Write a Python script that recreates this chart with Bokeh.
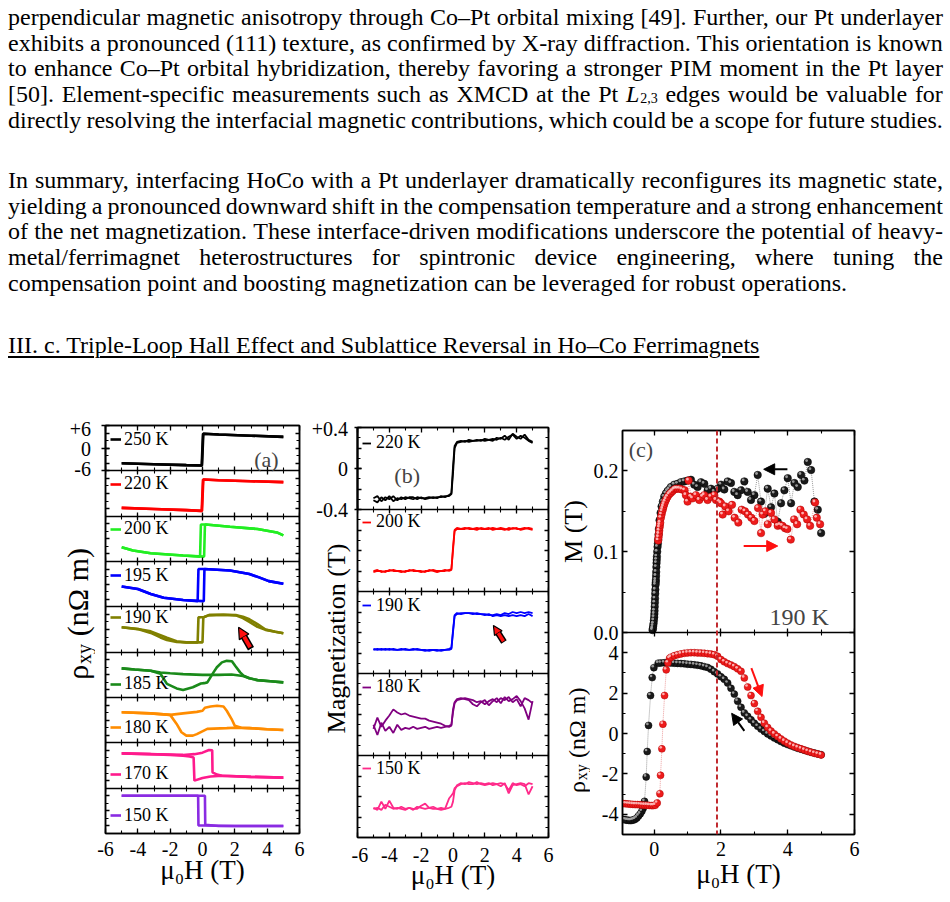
import math

from bokeh.embed import file_html
from bokeh.layouts import column, row
from bokeh.models import (Arrow, ColumnDataSource, CustomLabelingPolicy, Div, FixedTicker,
                          Label, Legend, LegendItem, LinearAxis, NormalHead, Range1d,
                          SingleIntervalTicker, Span)
from bokeh.plotting import figure
from bokeh.resources import INLINE
from bokeh.transform import dodge

SERIF = "Liberation Serif"

# ---------------------------------------------------------------- body text
para1 = [
    "perpendicular magnetic anisotropy through Co\u2013Pt orbital mixing [49]. Further, our Pt underlayer",
    "exhibits a pronounced (111) texture, as confirmed by X-ray diffraction. This orientation is known",
    "to enhance Co\u2013Pt orbital hybridization, thereby favoring a stronger PIM moment in the Pt layer",
    "[50]. Element-specific measurements such as XMCD at the Pt <i>L</i><sub>2,3</sub> edges would be valuable for",
    "directly resolving the interfacial magnetic contributions, which could be a scope for future studies.",
]
para2 = [
    "In summary, interfacing HoCo with a Pt underlayer dramatically reconfigures its magnetic state,",
    "yielding a pronounced downward shift in the compensation temperature and a strong enhancement",
    "of the net magnetization. These interface-driven modifications underscore the potential of heavy-",
    "metal/ferrimagnet heterostructures for spintronic device engineering, where tuning the",
]
para2_last = "compensation point and boosting magnetization can be leveraged for robust operations."
heading = "III. c. Triple-Loop Hall Effect and Sublattice Reversal in Ho\u2013Co Ferrimagnets"

# ---------------------------------------------------------------- panel (a): Hall loops
temps_a = ["250 K", "220 K", "200 K", "195 K", "190 K", "185 K", "180 K", "170 K", "150 K"]
colors_a = ["#000000", "#ff0000", "#22ee22", "#0000ff", "#808000",
            "#1a8a1a", "#ff8c00", "#ff1a8c", "#8a2be2"]

h_up_250 = [-5, -3, -1, -0.05, 0.03, 0.1, 1, 3, 5]
rho_up_250 = [-4.0, -4.25, -4.5, -4.6, 3.8, 3.8, 3.6, 3.3, 3.0]
h_dn_250 = [5, 3, 1, 0.05, -0.03, -0.1, -1, -3, -5]
rho_dn_250 = [3.0, 3.3, 3.6, 3.8, -4.6, -4.6, -4.5, -4.25, -4.0]

h_up_220 = [-5, -3, -1, -0.05, 0.03, 0.1, 1, 3, 5]
rho_up_220 = [-3.8, -4.1, -4.4, -4.6, 3.7, 3.7, 3.5, 3.25, 3.0]
h_dn_220 = [5, 3, 1, 0.05, -0.03, -0.1, -1, -3, -5]
rho_dn_220 = [3.0, 3.25, 3.5, 3.7, -4.6, -4.6, -4.4, -4.1, -3.8]

h_dn_200 = [5, 4.6, 3.4, 1.7, 0.2, -0.1, -0.15, -1.2, -3.2, -4.3, -5]
rho_dn_200 = [0.9, 1.7, 2.6, 3.2, 3.8, 3.8, -4.7, -4.4, -3.8, -3.1, -2.2]
h_up_200 = [-5, -4.3, -3.2, -1.2, 0.1, 0.15, 0.2, 1.7, 3.4, 4.6, 5]
rho_up_200 = [-2.2, -3.1, -3.8, -4.4, -4.7, 3.6, 3.8, 3.2, 2.6, 1.7, 0.9]

h_dn_195 = [5, 4.1, 3.5, 2.9, 1.7, 0.1, -0.25, -0.3, -1.2, -2.4, -3.2, -4.0, -5]
rho_dn_195 = [0.1, 0.8, 1.8, 2.7, 3.6, 4.0, 4.0, -4.5, -4.2, -3.6, -2.6, -1.3, -0.6]
h_up_195 = [-5, -4.0, -3.2, -2.4, -1.2, 0.0, 0.08, 0.12, 1.7, 2.9, 3.5, 4.1, 5]
rho_up_195 = [-0.6, -1.3, -2.6, -3.6, -4.2, -4.5, -4.5, 4.0, 3.6, 2.7, 1.8, 0.8, 0.1]

h_dn_190 = [5, 4.5, 3.9, 3.4, 2.9, 2.5, 2.1, 1.3, 0.4, 0.1, -0.25, -0.3,
            -1.0, -1.6, -2.2, -2.6, -3.2, -4.0, -5]
rho_dn_190 = [-1.0, -0.6, -0.1, 0.7, 2.0, 3.0, 3.7, 3.9, 3.8, 3.3, 3.2, -3.4,
              -3.4, -3.1, -2.2, -1.5, -0.5, 0.15, 0.6]
h_up_190 = [-5, -4.0, -3.2, -2.6, -2.2, -1.6, -1.0, -0.3, 0.0, 0.05, 0.4, 1.3,
            2.1, 2.5, 2.9, 3.4, 3.9, 4.5, 5]
rho_up_190 = [0.6, 0.1, -0.9, -2.1, -2.8, -3.3, -3.4, -3.4, -3.4, 3.2, 3.8, 3.9,
              3.8, 3.4, 2.7, 1.4, 0.0, -0.6, -1.0]

h_dn_185 = [5, 4.2, 3.4, 2.9, 2.5, 1.8, 1.0, 0.0, -1.2, -2.0, -2.6, -3.2, -4.2, -5]
rho_dn_185 = [-2.0, -1.7, -1.4, -0.9, -0.3, 0.1, 0.0, 0.0, 0.2, 0.4, 0.6, 1.1, 1.4, 1.7]
h_up_185 = [-5, -4.2, -3.2, -2.6, -2.2, -1.6, -1.2, -0.6, -0.1, 0.1, 0.3, 0.68,
            0.89, 1.2, 1.5, 1.82, 2.02, 2.33, 2.54, 2.9, 3.4, 4.2, 5]
rho_up_185 = [1.7, 1.4, 1.1, 0.3, -2.4, -3.6, -4.0, -3.3, -2.3, -2.2, -2.0, 0.65,
              2.0, 3.3, 3.7, 3.6, 2.4, 0.65, -0.2, -0.9, -1.4, -1.7, -2.0]

h_up_180 = [-5, -3.2, -2.0, -1.2, -0.35, 0.0, 0.15, 0.5, 0.9, 1.3, 1.5, 1.8, 2.0, 2.4, 2.9, 4, 5]
rho_up_180 = [2.1, 1.8, 1.4, 1.8, 2.2, 2.5, 3.3, 3.6, 3.8, 3.6, 2.5, 0.3, -1.5, -2.0, -2.1, -2.4, -2.6]
h_dn_180 = [5, 4, 2.9, 2.0, 1.5, 0.3, -0.35, -0.6, -1.0, -1.3, -1.6, -2.0, -3.2, -5]
rho_dn_180 = [-2.6, -2.4, -2.1, -2.0, -2.1, -2.3, -3.7, -4.1, -4.1, -3.2, -1.0, 1.4, 1.8, 2.1]

h_dn_170 = [5, 3, 1.2, 0.5, 0.0, -0.5, -0.55, -0.8, -1.2, -2, -3.2, -5]
rho_dn_170 = [-3.2, -3.0, -2.7, -2.9, -3.3, -4.0, 2.1, 2.4, 2.6, 2.8, 3.0, 3.2]
h_up_170 = [-5, -3.2, -2, -1.2, -0.5, 0.0, 0.4, 0.6, 0.62, 0.9, 1.2, 3, 5]
rho_up_170 = [3.2, 3.0, 2.9, 2.8, 3.0, 3.4, 4.1, 4.0, -1.8, -2.4, -2.7, -3.0, -3.2]

h_dn_150 = [5, 2, 0, -0.25, -0.27, -1, -3, -5]
rho_dn_150 = [-4.0, -4.0, -3.9, -3.9, 4.0, 4.0, 4.0, 4.0]
h_up_150 = [-5, -3, -1, 0.1, 0.15, 0.17, 1, 3, 5]
rho_up_150 = [4.0, 4.0, 4.0, 4.0, 4.0, -3.7, -4.0, -4.0, -4.0]

loops_a = [
    (h_up_250, rho_up_250, h_dn_250, rho_dn_250),
    (h_up_220, rho_up_220, h_dn_220, rho_dn_220),
    (h_up_200, rho_up_200, h_dn_200, rho_dn_200),
    (h_up_195, rho_up_195, h_dn_195, rho_dn_195),
    (h_up_190, rho_up_190, h_dn_190, rho_dn_190),
    (h_up_185, rho_up_185, h_dn_185, rho_dn_185),
    (h_up_180, rho_up_180, h_dn_180, rho_dn_180),
    (h_up_170, rho_up_170, h_dn_170, rho_dn_170),
    (h_up_150, rho_up_150, h_dn_150, rho_dn_150),
]

# ---------------------------------------------------------------- panel (b): magnetization loops
temps_b = ["220 K", "200 K", "190 K", "180 K", "150 K"]
colors_b = ["#000000", "#ff0000", "#0000ff", "#800080", "#ff2a8a"]

field_b = [-5.0, -4.75, -4.5, -4.25, -4.0, -3.75, -3.5, -3.25, -3.0, -2.75, -2.5,
           -2.25, -2.0, -1.75, -1.5, -1.25, -1.0, -0.75, -0.5, -0.25, -0.1, 0.0,
           0.1, 0.25, 0.5, 0.75, 1.0, 1.25, 1.5, 1.75, 2.0, 2.25, 2.5, 2.75, 3.0,
           3.25, 3.5, 3.75, 4.0, 4.25, 4.5, 4.75, 5.0]

m220_up = [-0.31, -0.33, -0.28, -0.31, -0.27, -0.32, -0.29, -0.30, -0.28, -0.29,
           -0.30, -0.28, -0.29, -0.29, -0.28, -0.29, -0.28, -0.28, -0.27, -0.27,
           -0.25, -0.05, 0.20,
           0.25, 0.26, 0.27, 0.26, 0.27, 0.27, 0.28, 0.27, 0.28, 0.29,
           0.28, 0.30, 0.28, 0.31, 0.33, 0.29, 0.32, 0.30, 0.27, 0.25]
m220_dn = [-0.29, -0.27, -0.32, -0.28, -0.30, -0.27, -0.31, -0.28, -0.30, -0.28,
           -0.28, -0.30, -0.28, -0.30, -0.29, -0.28, -0.29, -0.27, -0.28, -0.26,
           -0.24, 0.02, 0.22,
           0.26, 0.27, 0.26, 0.28, 0.27, 0.28, 0.27, 0.29, 0.28, 0.27,
           0.30, 0.29, 0.32, 0.28, 0.34, 0.31, 0.29, 0.33, 0.28, 0.26]
m200_up = [-0.20, -0.19, -0.21, -0.20, -0.20, -0.19, -0.20, -0.21, -0.20, -0.20,
           -0.19, -0.20, -0.21, -0.20, -0.20, -0.19, -0.20, -0.20, -0.20, -0.19,
           -0.18, 0.00, 0.19,
           0.21, 0.21, 0.22, 0.21, 0.21, 0.22, 0.21, 0.21, 0.22, 0.20,
           0.21, 0.22, 0.21, 0.20, 0.22, 0.21, 0.21, 0.22, 0.21, 0.20]
m200_dn = [-0.21, -0.20, -0.20, -0.21, -0.19, -0.20, -0.20, -0.20, -0.21, -0.19,
           -0.20, -0.20, -0.20, -0.21, -0.19, -0.20, -0.21, -0.20, -0.19, -0.20,
           -0.19, 0.03, 0.20,
           0.22, 0.21, 0.21, 0.22, 0.21, 0.20, 0.22, 0.21, 0.21, 0.22,
           0.21, 0.21, 0.20, 0.22, 0.21, 0.22, 0.20, 0.21, 0.22, 0.21]
m190_up = [-0.16, -0.17, -0.16, -0.17, -0.16, -0.17, -0.17, -0.16, -0.17, -0.17,
           -0.16, -0.17, -0.17, -0.17, -0.18, -0.17, -0.17, -0.18, -0.17, -0.17,
           -0.16, 0.00, 0.16,
           0.18, 0.19, 0.19, 0.19, 0.18, 0.19, 0.18, 0.18, 0.17, 0.17,
           0.18, 0.17, 0.19, 0.18, 0.20, 0.19, 0.20, 0.19, 0.20, 0.19]
m190_dn = [-0.17, -0.16, -0.17, -0.16, -0.17, -0.16, -0.17, -0.17, -0.16, -0.17,
           -0.17, -0.16, -0.17, -0.18, -0.17, -0.17, -0.18, -0.17, -0.17, -0.16,
           -0.15, 0.02, 0.17,
           0.19, 0.18, 0.19, 0.19, 0.19, 0.18, 0.18, 0.17, 0.18, 0.16,
           0.17, 0.16, 0.17, 0.16, 0.17, 0.16, 0.17, 0.16, 0.18, 0.16]
m180_up = [-0.10, -0.20, -0.08, -0.16, -0.12, -0.18, -0.10, -0.15, -0.13, -0.14,
           -0.12, -0.14, -0.13, -0.12, -0.14, -0.13, -0.12, -0.13, -0.12, -0.11,
           -0.10, 0.02, 0.11,
           0.14, 0.15, 0.16, 0.15, 0.14, 0.12, 0.13, 0.10, 0.13, 0.15,
           0.12, 0.16, 0.14, 0.17, 0.12, 0.15, 0.08, 0.16, 0.14, 0.11]
m180_dn = [-0.14, -0.03, -0.12, -0.06, -0.01, 0.05, 0.02, 0.00, 0.01, -0.01,
           -0.02, -0.03, -0.04, -0.04, -0.06, -0.07, -0.08, -0.09, -0.11, -0.12,
           -0.11, 0.05, 0.12,
           0.15, 0.16, 0.15, 0.14, 0.10, 0.08, 0.12, 0.14, 0.09, 0.13,
           0.16, 0.11, 0.17, 0.13, 0.15, 0.18, 0.13, 0.06, -0.05, 0.13]
m150_up = [-0.12, -0.11, -0.13, -0.08, -0.10, -0.12, -0.11, -0.12, -0.13, -0.11,
           -0.12, -0.12, -0.09, -0.07, -0.11, -0.12, -0.12, -0.13, -0.12, -0.11,
           -0.10, -0.05, 0.06,
           0.11, 0.13, 0.12, 0.14, 0.13, 0.12, 0.13, 0.12, 0.13, 0.11,
           0.12, 0.13, 0.12, 0.06, 0.13, 0.11, 0.12, 0.10, 0.13, 0.12]
m150_dn = [-0.11, -0.13, -0.05, -0.12, -0.04, -0.11, -0.12, -0.10, -0.12, -0.11,
           -0.13, -0.10, -0.11, -0.12, -0.11, -0.10, -0.12, -0.11, -0.12, -0.02,
           0.01, 0.03, 0.08,
           0.10, 0.12, 0.13, 0.12, 0.12, 0.14, 0.12, 0.11, 0.12, 0.13,
           0.12, 0.10, 0.13, 0.03, 0.11, 0.12, 0.13, 0.12, 0.02, 0.10]

loops_b = [(m220_up, m220_dn), (m200_up, m200_dn), (m190_up, m190_dn),
           (m180_up, m180_dn), (m150_up, m150_dn)]

# ---------------------------------------------------------------- panel (c): 190 K, M(H) and rho_xy(H)
m_desc_field = [5.0, 4.9, 4.8, 4.7, 4.6, 4.5, 4.4, 4.3, 4.2, 4.1, 4.0, 3.9, 3.8, 3.7,
                3.6, 3.5, 3.4, 3.3, 3.2, 3.1, 3.0, 2.9, 2.8, 2.7, 2.6, 2.5, 2.4, 2.3,
                2.2, 2.1, 2.0, 1.9, 1.8, 1.7, 1.6, 1.5, 1.4, 1.3, 1.2, 1.1, 1.0, 0.9,
                0.8, 0.7, 0.6, 0.5, 0.45, 0.4, 0.35, 0.3, 0.26, 0.22, 0.19, 0.16,
                0.14, 0.13, 0.12, 0.11, 0.10, 0.09, 0.08, 0.075, 0.07, 0.065, 0.06,
                0.055, 0.05, 0.045, 0.04, 0.035, 0.03, 0.025, 0.02, 0.015, 0.01,
                0.005, 0.0, -0.01, -0.02, -0.03, -0.04, -0.05]
m_desc = [0.123, 0.152, 0.162, 0.201, 0.211, 0.188, 0.195, 0.180, 0.185, 0.160,
          0.191, 0.176, 0.160, 0.137, 0.172, 0.155, 0.178, 0.147, 0.162, 0.195,
          0.170, 0.164, 0.174, 0.187, 0.176, 0.170, 0.174, 0.185, 0.187, 0.177,
          0.183, 0.178, 0.174, 0.178, 0.176, 0.184, 0.186, 0.180, 0.183, 0.189,
          0.188, 0.187, 0.186, 0.184, 0.183, 0.180,
          0.177, 0.175, 0.172, 0.168, 0.162, 0.156, 0.148, 0.139, 0.128, 0.121,
          0.115, 0.110, 0.106, 0.100, 0.094, 0.090, 0.086, 0.081, 0.075, 0.070,
          0.065, 0.062, 0.059, 0.053, 0.048, 0.042, 0.037, 0.032, 0.027, 0.023,
          0.019, 0.015, 0.011, 0.008, 0.005, 0.003]

m_asc_field = [0.12, 0.13, 0.14, 0.15, 0.16, 0.17, 0.18, 0.2, 0.22, 0.24, 0.26, 0.28,
               0.3, 0.33, 0.36, 0.4, 0.45, 0.5, 0.55, 0.6, 0.65, 0.7, 0.76, 0.83,
               0.91, 0.95, 1.0, 1.03, 1.1, 1.15, 1.25, 1.35, 1.45, 1.5, 1.6, 1.7,
               1.8, 1.85, 1.95, 2.0, 2.05, 2.13, 2.23, 2.33, 2.41, 2.52, 2.62, 2.72,
               2.81, 2.91, 3.0, 3.11, 3.2, 3.25, 3.33, 3.4, 3.5, 3.6, 3.7, 3.77,
               3.84, 3.92, 3.99, 4.09, 4.19, 4.28, 4.38, 4.48, 4.58, 4.67, 4.82,
               4.87, 4.97]
m_asc = [0.114, 0.118, 0.122, 0.126, 0.130, 0.133, 0.136, 0.142, 0.146, 0.150,
         0.153, 0.156, 0.159, 0.162, 0.165, 0.168, 0.171, 0.173, 0.175, 0.177,
         0.178, 0.178, 0.178, 0.177, 0.176, 0.170, 0.162, 0.188, 0.168, 0.166,
         0.170, 0.164, 0.168, 0.170, 0.164, 0.168, 0.170, 0.164, 0.162, 0.160,
         0.146, 0.156, 0.150, 0.158, 0.142, 0.136, 0.152, 0.150, 0.146, 0.142,
         0.138, 0.154, 0.123, 0.146, 0.150, 0.134, 0.148, 0.140, 0.132, 0.133,
         0.132, 0.129, 0.128, 0.115, 0.140, 0.134, 0.152, 0.146, 0.140, 0.132,
         0.161, 0.142, 0.134]

rho_desc_field = [5.0, 4.9, 4.8, 4.7, 4.6, 4.5, 4.4, 4.3, 4.2, 4.1, 4.0, 3.9, 3.8,
                  3.7, 3.6, 3.5, 3.4, 3.3, 3.2, 3.1, 3.0, 2.9, 2.8, 2.7, 2.6, 2.5,
                  2.4, 2.3, 2.2, 2.1, 2.0, 1.9, 1.8, 1.7, 1.6, 1.5, 1.4, 1.3, 1.2,
                  1.1, 1.0, 0.9, 0.8, 0.7, 0.6, 0.5, 0.4, 0.3, 0.2, 0.12, -0.01,
                  -0.06, -0.11, -0.17, -0.21, -0.24, -0.29, -0.33, -0.37, -0.42,
                  -0.47, -0.52, -0.57, -0.62, -0.67, -0.72, -0.77, -0.82, -0.87, -0.92]
rho_desc = [-1.05, -1.01, -0.97, -0.93, -0.88, -0.83, -0.78, -0.73, -0.67, -0.61,
            -0.55, -0.48, -0.40, -0.31, -0.22, -0.12, -0.02, 0.10, 0.22, 0.36,
            0.51, 0.68, 0.85, 1.02, 1.30, 1.60, 1.95, 2.24, 2.50, 2.68,
            2.81, 2.95, 3.06, 3.18, 3.27, 3.31, 3.35, 3.38, 3.40, 3.42,
            3.43, 3.45, 3.46, 3.47, 3.48, 3.49, 3.50, 3.50, 3.49, 3.48,
            3.26, 2.77, 1.88, 0.40, -0.89, -2.15, -3.36, -3.70, -3.85, -3.98,
            -4.08, -4.18, -4.24, -4.28, -4.30, -4.31, -4.30, -4.29, -4.27, -4.26]

rho_asc_field = [-0.92, -0.85, -0.78, -0.71, -0.64, -0.57, -0.5, -0.43, -0.36, -0.29,
                 -0.22, -0.15, -0.08, -0.03, 0.03, 0.09, 0.17, 0.19, 0.23, 0.26,
                 0.31, 0.36, 0.41, 0.46, 0.5, 0.6, 0.7, 0.8, 0.9, 1.0, 1.1, 1.2,
                 1.3, 1.4, 1.5, 1.6, 1.7, 1.8, 1.9, 2.0, 2.1, 2.2, 2.3, 2.4, 2.5,
                 2.6, 2.7, 2.8, 2.9, 3.0, 3.1, 3.2, 3.3, 3.4, 3.5, 3.6, 3.7, 3.8,
                 3.9, 4.0, 4.1, 4.2, 4.3, 4.4, 4.5, 4.6, 4.7, 4.8, 4.9, 5.0]
rho_asc = [-3.47, -3.48, -3.49, -3.50, -3.51, -3.52, -3.52, -3.53, -3.54, -3.55,
           -3.55, -3.56, -3.57, -3.57, -3.55, -3.44, -2.98, -2.07, -0.76, 0.46,
           1.88, 3.15, 3.50, 3.72, 3.78, 3.85, 3.90, 3.94, 3.97, 3.99, 4.00, 4.00,
           3.99, 3.98, 3.97, 3.95, 3.93, 3.90, 3.82, 3.66, 3.55, 3.46, 3.39, 3.31,
           3.20, 3.08, 2.75, 2.30, 1.88, 1.48, 1.10, 0.80, 0.51, 0.30, 0.12, -0.02,
           -0.15, -0.27, -0.38, -0.48, -0.57, -0.64, -0.70, -0.76, -0.82, -0.88,
           -0.93, -0.98, -1.02, -1.06]

field_ticks = {-6: "-6", -4: "-4", -2: "-2", 0: "0", 2: "2", 4: "4", 6: "6"}
FIELD_TITLE = "\u03bc\u2080H (T)"

# ---------------------------------------------------------------- helpers
NO_LABELS = CustomLabelingPolicy(code="""
    for (const i of indices)
        indices.unset(i)
    return indices
""")


def frame_axis(ticker, labels=False, tin=5, tout=0, mtin=3, mtout=0, standoff=8,
               overrides=None, **kw):
    ax = LinearAxis(ticker=ticker, **kw)
    ax.axis_line_color = "black"
    ax.axis_line_width = 1.5
    ax.major_tick_line_color = "black"
    ax.major_tick_line_width = 1.3
    ax.minor_tick_line_color = "black"
    ax.minor_tick_line_width = 1.1
    ax.major_tick_in, ax.major_tick_out = int(tin), int(tout)
    ax.minor_tick_in, ax.minor_tick_out = int(mtin), int(mtout)
    if labels:
        ax.major_label_text_font = SERIF
        ax.major_label_text_font_size = "20px"
        ax.major_label_text_color = "black"
        ax.major_label_standoff = standoff
        if overrides:
            ax.major_label_overrides = overrides
    else:
        ax.major_label_text_font_size = "0px"
        ax.major_label_standoff = 0
        ax.major_label_policy = NO_LABELS
    return ax


def field_axis(standoff, title_standoff):
    ax = frame_axis(SingleIntervalTicker(interval=2, num_minor_ticks=2), labels=True,
                    overrides=field_ticks, standoff=standoff)
    ax.axis_label = FIELD_TITLE
    ax.axis_label_text_font = SERIF
    ax.axis_label_text_font_size = "27px"
    ax.axis_label_text_font_style = "normal"
    ax.axis_label_text_color = "black"
    ax.axis_label_standoff = title_standoff
    return ax


def spacer_axis(gap, **kw):
    return LinearAxis(ticker=FixedTicker(ticks=[]), axis_line_color=None,
                      major_tick_in=0, major_tick_out=gap, minor_tick_in=0, minor_tick_out=0,
                      major_label_text_font_size="0px", major_label_standoff=0,
                      major_label_policy=NO_LABELS, **kw)


def base_figure(width, left, right, top, bottom, xr, yr):
    p = figure(width=width, height=502, x_range=xr, y_range=yr,
               x_axis_type=None, y_axis_type=None,
               output_backend="svg", toolbar_location=None,
               min_border_left=left, min_border_right=right,
               min_border_top=top, min_border_bottom=bottom)
    p.frame_align = False
    p.outline_line_color = "black"
    p.outline_line_width = 1.5
    p.background_fill_color = "white"
    p.border_fill_color = "white"
    return p


def label_strip(x0, width):
    # narrow canvas whose data coordinates are page pixels (y grows downwards)
    p = figure(width=width, height=502, x_range=Range1d(x0, x0 + width),
               y_range=Range1d(902, 400), x_axis_type=None, y_axis_type=None,
               output_backend="svg", toolbar_location=None, min_border=0)
    p.frame_align = False
    p.outline_line_color = None
    p.background_fill_color = "white"
    p.border_fill_color = "white"
    return p


def strip_text(p, x, y, text, size, angle=0.0, align="center", baseline="middle"):
    p.add_layout(Label(x=x, y=y, text=text, text_font=SERIF, text_font_size=f"{size}px",
                       text_color="black", angle=angle, text_align=align,
                       text_baseline=baseline))


def rho_title(p, xc, y_bottom, big, small, shift):
    # rotated "rho_xy (nOhm m)": centre line xc, text starts at y_bottom and runs upwards
    up = math.pi / 2
    w_rho = 0.55 * big
    w_sub = 1.0 * small
    w_unit = 2.96 * big
    gap = 0.25 * big
    strip_text(p, xc, y_bottom - w_rho / 2, "\u03c1", big, angle=up)
    x_sub = xc + 0.34 * big + shift - 0.34 * small
    strip_text(p, x_sub, y_bottom - w_rho - w_sub / 2, "xy", small, angle=up)
    strip_text(p, xc, y_bottom - w_rho - w_sub - gap - w_unit / 2, "(n\u03a9 m)", big, angle=up)


def band_legend(p, renderer, text, vx, vy, glyph_w, standoff):
    p.add_layout(Legend(items=[LegendItem(label=text, renderers=[renderer])],
                        location=(vx, vy), glyph_width=glyph_w, glyph_height=22,
                        label_height=22, label_standoff=standoff, padding=0, margin=0,
                        spacing=0, border_line_color=None, background_fill_color=None,
                        label_text_font=SERIF, label_text_font_size="18px",
                        label_text_color="black"))


def outlined_arrow(p, xs, ys, xe, ye, xcut, ycut, xback, yback, head, width, rng):
    p.add_layout(Arrow(end=None, x_start=xback, y_start=yback, x_end=xcut, y_end=ycut,
                       line_color="black", line_width=width + 3, y_range_name=rng))
    p.add_layout(Arrow(end=NormalHead(size=head, fill_color="#ff1010", line_color="black",
                                      line_width=1.2),
                       x_start=xs, y_start=ys, x_end=xe, y_end=ye,
                       line_color="#ff1010", line_width=width, y_range_name=rng))


def band_ranges(centers, total):
    return {f"s{k}": Range1d(round(-c, 9), round(total - c, 9)) for k, c in enumerate(centers)}


# ---------------------------------------------------------------- panel (a)
band_a = 12.0
n_a = len(temps_a)
total_a = band_a * n_a
centers_a = [round(band_a * (n_a - k - 0.5), 9) for k in range(n_a)]
fa = base_figure(215, 10, 11, 25, 69, Range1d(-6, 6), Range1d(0, total_a))
fa.extra_y_ranges = band_ranges(centers_a, total_a)
FA_B = 833

fa.add_layout(field_axis(8, -4), "below")
fa.add_layout(frame_axis(SingleIntervalTicker(interval=2, num_minor_ticks=2)), "above")
for k in range(1, n_a):
    fa.add_layout(frame_axis(SingleIntervalTicker(interval=2, num_minor_ticks=2),
                             tin=4, tout=4, mtin=3, mtout=3, fixed_location=band_a * k), "below")
y_tick_a = FixedTicker(ticks=[c + d for c in centers_a for d in (-4, 0, 4)],
                       minor_ticks=[c + d for c in centers_a for d in (-2, 2)])
fa.add_layout(frame_axis(y_tick_a, tin=4, mtin=3), "left")
fa.add_layout(spacer_axis(7), "left")
fa.add_layout(frame_axis(FixedTicker(ticks=[-6, 0, 6]), tin=4, tout=4, mtin=0,
                         y_range_name="s0", bounds=(-6, 6)), "left")
fa.add_layout(frame_axis(FixedTicker(ticks=y_tick_a.ticks, minor_ticks=y_tick_a.minor_ticks),
                         tin=4, mtin=3), "right")

legend_center_a = [439, 483.5, 528.5, 575, 617, 683.5, 727, 773.5, 815]
for k, (hu, ru, hd, rd) in enumerate(loops_a):
    r_up = fa.line(hu, ru, y_range_name=f"s{k}", line_color=colors_a[k], line_width=2.6)
    fa.line(hd, rd, y_range_name=f"s{k}", line_color=colors_a[k], line_width=2.6)
    band_legend(fa, r_up, temps_a[k], 5, FA_B - (legend_center_a[k] + 11), 11, 3)

fa.add_layout(Label(x=3.95, y=-3.0, y_range_name="s0", text="(a)", text_font=SERIF,
                    text_font_size="22px", text_align="center", text_baseline="middle"))
outlined_arrow(fa, 2.95, -4.73, 2.23, 0.57, 2.52, -1.55, 3.0, -5.07, 11, 4, "s4")

la = label_strip(0, 95)
strip_text(la, 90.5, 428, "+6", 20, align="right")
strip_text(la, 90.5, 448.5, "0", 20, align="right")
strip_text(la, 90.5, 468, "-6", 20, align="right")
rho_title(la, 77, 680, 30, 20, 3)

# ---------------------------------------------------------------- panel (b)
band_b = 0.8
n_b = len(temps_b)
total_b = round(band_b * n_b, 9)
centers_b = [round(band_b * (n_b - k - 0.5), 9) for k in range(n_b)]
fb = base_figure(209, 6, 12, 27, 65, Range1d(-6, 6), Range1d(0, total_b))
fb.extra_y_ranges = band_ranges(centers_b, total_b)
FB_B = 837

fb.add_layout(field_axis(10, -5), "below")
fb.add_layout(frame_axis(SingleIntervalTicker(interval=2, num_minor_ticks=2)), "above")
for k in range(1, n_b):
    fb.add_layout(frame_axis(SingleIntervalTicker(interval=2, num_minor_ticks=2),
                             tin=4, tout=4, mtin=3, mtout=3,
                             fixed_location=round(band_b * k, 9)), "below")
y_tick_b = FixedTicker(ticks=[round(c + d, 9) for c in centers_b for d in (-0.2, 0, 0.2)],
                       minor_ticks=[round(c + d, 9) for c in centers_b
                                    for d in (-0.3, -0.1, 0.1, 0.3)])
fb.add_layout(frame_axis(y_tick_b, tin=4, mtin=3), "left")
fb.add_layout(spacer_axis(3), "left")
bracket_b = frame_axis(FixedTicker(ticks=[-0.4, 0, 0.4]), tin=4, tout=3, mtin=0,
                       y_range_name="s0", bounds=(-0.4, 0.4))
bracket_b.axis_line_width = 2
fb.add_layout(bracket_b, "left")
fb.add_layout(frame_axis(FixedTicker(ticks=y_tick_b.ticks, minor_ticks=y_tick_b.minor_ticks),
                         tin=4, mtin=3), "right")

legend_center_b = [442.5, 521.7, 605, 686.7, 768.3]
for k, (mu, md) in enumerate(loops_b):
    r_up = fb.line(field_b, mu, y_range_name=f"s{k}", line_color=colors_b[k], line_width=1.8)
    fb.line(field_b[::-1], md[::-1], y_range_name=f"s{k}", line_color=colors_b[k],
            line_width=1.8)
    band_legend(fb, r_up, temps_b[k], 5, FB_B - (legend_center_b[k] + 11), 9, 5)

fb.add_layout(Label(x=-2.88, y=-0.068, y_range_name="s0", text="(b)", text_font=SERIF,
                    text_font_size="22px", text_align="center", text_baseline="middle"))
outlined_arrow(fb, 3.17, -0.085, 2.54, 0.068, 2.82, -0.001, 3.2, -0.093, 9, 3.5, "s2")

lb = label_strip(310, 41)
strip_text(lb, 347.5, 428, "+0.4", 20, align="right")
strip_text(lb, 347.5, 468, "0", 20, align="right")
strip_text(lb, 347.5, 509, "-0.4", 20, align="right")
strip_text(lb, 335.5, 638, "Magnetization (T)", 26, angle=math.pi / 2)

# ---------------------------------------------------------------- panel (c)
fc = base_figure(360, 29, 96, 30, 68, Range1d(-0.95, 6), Range1d(-5, 15))
fc.extra_y_ranges = {"m": Range1d(-0.25, 0.25)}

fc_bottom = field_axis(7, 0)
fc_bottom.major_label_overrides = {0: "0", 2: "2", 4: "4", 6: "6"}
fc.add_layout(fc_bottom, "below")
fc.add_layout(frame_axis(SingleIntervalTicker(interval=2, num_minor_ticks=2)), "above")
fc.add_layout(frame_axis(SingleIntervalTicker(interval=2, num_minor_ticks=2),
                         tin=4, tout=4, mtin=3, mtout=3, fixed_location=5), "below")
y_tick_c = FixedTicker(ticks=[-4, -2, 0, 2, 4, 5, 9, 13], minor_ticks=[-3, -1, 1, 3, 7, 11])
fc.add_layout(frame_axis(y_tick_c, labels=True, tin=5, mtin=3, standoff=4,
                         overrides={-4: "-4", -2: "-2", 0: "0", 2: "2", 4: "4",
                                    5: "0.0", 9: "0.1", 13: "0.2"}), "left")
fc.add_layout(frame_axis(FixedTicker(ticks=y_tick_c.ticks, minor_ticks=y_tick_c.minor_ticks),
                         tin=5, mtin=3), "right")

src_md = ColumnDataSource(dict(H=m_desc_field, M=m_desc))
src_ma = ColumnDataSource(dict(H=m_asc_field, M=m_asc))
src_rd = ColumnDataSource(dict(H=rho_desc_field, R=rho_desc))
src_ra = ColumnDataSource(dict(H=rho_asc_field, R=rho_asc))


def spheres(p, src, ycol, rng_kw, base, edge, shine, link, size, dy):
    p.line("H", ycol, source=src, line_color=link, line_width=0.6, line_dash="1 1", **rng_kw)
    p.scatter("H", ycol, source=src, marker="circle", size=size, fill_color=base,
              line_color=edge, line_width=0.5, **rng_kw)
    p.scatter(x=dodge("H", -0.035), y=dodge(ycol, dy), source=src, marker="circle",
              size=size * 0.38, fill_color=shine, fill_alpha=0.85, line_color=None, **rng_kw)


spheres(fc, src_md, "M", {"y_range_name": "m"}, "#1a1a1a", "#000000", "#b0b0b0", "#555555", 7.5, 0.0018)
spheres(fc, src_ma, "M", {"y_range_name": "m"}, "#ee1c1c", "#b00000", "#ffc8c8", "#e06060", 7.5, 0.0018)
spheres(fc, src_rd, "R", {}, "#1a1a1a", "#000000", "#b0b0b0", "#555555", 7, 0.075)
spheres(fc, src_ra, "R", {}, "#ee1c1c", "#b00000", "#ffc8c8", "#e06060", 7, 0.075)

fc.add_layout(Span(location=1.88, dimension="height", line_color="#c0282d",
                   line_width=2, line_dash="5 3"))


def thin_arrow(p, xs, ys, xe, ye, color, rng=None):
    kw = {"y_range_name": rng} if rng else {}
    p.add_layout(Arrow(end=NormalHead(size=11, fill_color=color, line_color=color),
                       x_start=xs, y_start=ys, x_end=xe, y_end=ye,
                       line_color=color, line_width=2, **kw))


thin_arrow(fc, 3.99, 0.202, 3.28, 0.202, "black", "m")
thin_arrow(fc, 2.68, 0.107, 3.70, 0.107, "#ff1010", "m")
thin_arrow(fc, 2.91, 3.24, 3.23, 1.83, "#ff1010")
thin_arrow(fc, 2.70, 0.13, 2.32, 1.0, "black")

fc.add_layout(Label(x=-0.40, y=0.226, y_range_name="m", text="(c)", text_font=SERIF,
                    text_font_size="22px", text_align="center", text_baseline="middle"))
fc.add_layout(Label(x=4.34, y=0.0193, y_range_name="m", text="190 K", text_font=SERIF,
                    text_font_size="24px", text_align="center", text_baseline="middle"))

lc = label_strip(560, 30)
strip_text(lc, 573, 531, "M (T)", 26, angle=math.pi / 2)
rho_title(lc, 576, 793, 24, 16, 2.4)

# ---------------------------------------------------------------- text block
LINE_H = 25.7
FONT_PX = 24


def justified(line, top):
    words = "".join(f"<span>{w}</span>" for w in line.split(" "))
    return (f'<div style="position:absolute;left:8px;top:{top:.1f}px;width:935px;height:26px;'
            f'line-height:26px;display:flex;justify-content:space-between;white-space:nowrap;">'
            f'{words}</div>')


def plain(line, top, extra=""):
    return (f'<div style="position:absolute;left:8px;top:{top:.1f}px;height:26px;'
            f'line-height:26px;white-space:nowrap;{extra}">{line}</div>')


parts = []
for i, ln in enumerate(para1):
    parts.append(justified(ln, 4 + i * LINE_H))
for i, ln in enumerate(para2):
    parts.append(justified(ln, 167 + i * LINE_H))
parts.append(plain(para2_last, 167 + len(para2) * LINE_H))
parts.append(plain(heading, 331.5, "text-decoration:underline;text-decoration-thickness:2px;"
                                   "text-underline-offset:3px;"))
html = ('<div style="position:relative;width:950px;height:400px;font-family:\'Liberation Serif\';'
        f'font-size:{FONT_PX}px;color:#000;">'
        '<style>sub{font-size:14px;line-height:0;vertical-align:-1px;margin-left:1px;}</style>'
        + "".join(parts) + "</div>")
text_div = Div(text=html, width=950, height=400, margin=0)

page = column(text_div, row(la, fa, lb, fb, lc, fc, spacing=0), spacing=0)
open("out.html", "w").write(file_html(page, INLINE))
